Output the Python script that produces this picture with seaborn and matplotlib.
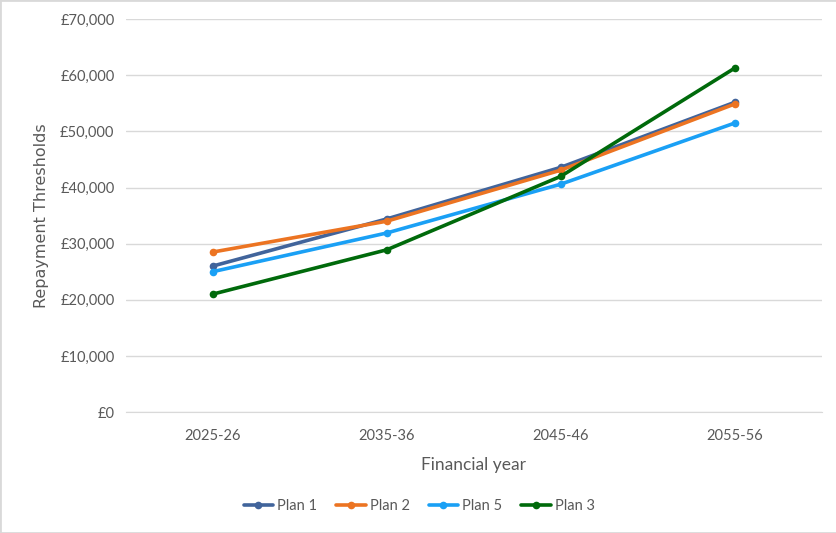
import pandas as pd
import seaborn as sns
import matplotlib.pyplot as plt
from matplotlib.ticker import FuncFormatter

# Data
years = ['2025-26', '2035-36', '2045-46', '2055-56']
plan_1 = [26000, 34400, 43600, 55200]
plan_2 = [28500, 34000, 43100, 54900]
plan_5 = [25000, 31900, 40600, 51500]
plan_3 = [21000, 28900, 42000, 61300]

series = {'Plan 1': plan_1, 'Plan 2': plan_2, 'Plan 5': plan_5, 'Plan 3': plan_3}
colors = {'Plan 1': '#41649B', 'Plan 2': '#EC7422', 'Plan 5': '#1AA0F5', 'Plan 3': '#006A0B'}

rows = []
for name, vals in series.items():
    for yr, v in zip(years, vals):
        rows.append({'Financial year': yr, 'Threshold': v, 'Plan': name})
df = pd.DataFrame(rows)

sns.set_style("white")
plt.rcParams['font.family'] = ['Lato', 'DejaVu Sans']

fig = plt.figure(figsize=(8.37, 5.33), dpi=100)
ax = fig.add_axes([0.150, 0.227, 0.832, 0.737])

sns.lineplot(data=df, x='Financial year', y='Threshold', hue='Plan',
             palette=colors, marker='o', markersize=5.5, markeredgewidth=0,
             linewidth=2.6, sort=False, ax=ax)

ax.set_ylim(0, 70000)
ax.set_xlim(-0.5, 3.5)
ax.yaxis.set_major_formatter(FuncFormatter(lambda v, p: '£{:,.0f}'.format(v)))
ax.set_yticks(range(0, 70001, 10000))
ax.grid(axis='y', color='#D9D9D9', linewidth=1)
ax.set_axisbelow(True)
for s in ['top', 'right', 'left']:
    ax.spines[s].set_visible(False)
ax.spines['bottom'].set_color('#D9D9D9')
ax.tick_params(axis='both', length=0, colors='#595959', labelsize=10.5)
ax.tick_params(axis='x', pad=12)
ax.tick_params(axis='y', pad=8)

ax.set_xlabel('Financial year', fontsize=12.5, color='#595959', labelpad=10)
ax.set_ylabel('Repayment Thresholds', fontsize=11.5, color='#595959',
              family=['DejaVu Sans'], labelpad=8)

leg = ax.legend(loc='center', bbox_to_anchor=(0.422, -0.24), ncol=4,
                frameon=False, fontsize=10.5, handlelength=2.0, columnspacing=1.3,
                handletextpad=0.3)
for t in leg.get_texts():
    t.set_color('#595959')

# light frame around the figure like the source image
fig.patches.append(plt.Rectangle((0, 0), 1, 1, transform=fig.transFigure,
                                 fill=False, edgecolor='#D9D9D9', linewidth=2))

fig.savefig('out.png', dpi=100)
